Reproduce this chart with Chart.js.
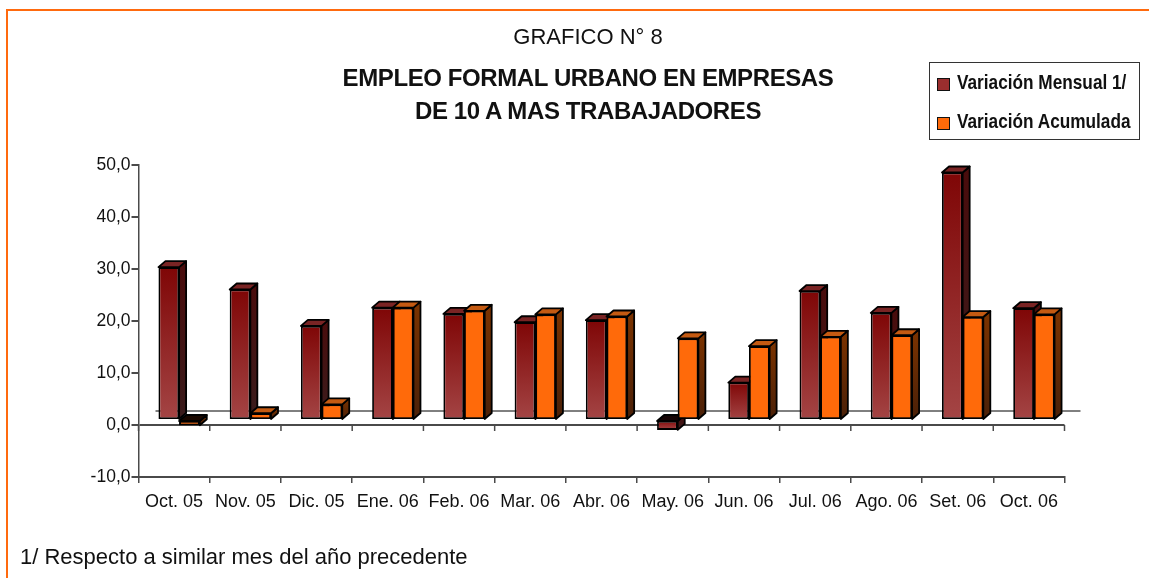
<!DOCTYPE html>
<html>
<head>
<meta charset="utf-8">
<script src="https://cdn.jsdelivr.net/npm/chart.js@4.4.1/dist/chart.umd.min.js"></script>
<style>
  html, body { margin:0; padding:0; background:#fff; }
  body { width:1149px; height:578px; position:relative; overflow:hidden;
         font-family:'Liberation Sans',Arial,sans-serif; color:#111; }
  #frame { position:absolute; left:6px; top:9px; width:1200px; height:700px;
           border-top:2px solid #ff6a0e; border-left:2px solid #ff6a0e; }
  #c { position:absolute; left:0; top:0; }
  .t { position:absolute; left:0; width:1176px; text-align:center; white-space:nowrap; }
  #t1 { top:24px; font-size:22px; line-height:26px; font-weight:normal; }
  #t2 { top:64px; font-size:24px; line-height:28px; font-weight:bold; letter-spacing:-0.4px; }
  #t3 { top:97px; font-size:24px; line-height:28px; font-weight:bold; letter-spacing:-0.4px; }
  #legend { position:absolute; left:929px; top:62px; width:209px; height:76px; border:1px solid #333; background:#fff; }
  .mk { position:absolute; left:7px; width:11px; height:11px; border:1.5px solid #111; }
  .li { position:absolute; left:27px; height:24px; font-size:21px; font-weight:bold; line-height:24px; white-space:nowrap;
        transform:scaleX(0.82); transform-origin:0 50%; }
  #foot { position:absolute; left:20px; top:543px; font-size:22px; line-height:28px; white-space:nowrap; }
</style>
</head>
<body>
<div id="frame"></div>
<canvas id="c" width="1149" height="578"></canvas>
<div class="t" id="t1">GRAFICO N° 8</div>
<div class="t" id="t2">EMPLEO FORMAL URBANO EN EMPRESAS</div>
<div class="t" id="t3">DE 10 A MAS TRABAJADORES</div>
<div id="legend">
  <span class="mk" style="top:15px;background:#9a2e2e"></span>
  <div class="li" style="top:7px">Variación Mensual 1/</div>
  <span class="mk" style="top:54px;background:#ff6a0a"></span>
  <div class="li" style="top:46px">Variación Acumulada</div>
</div>
<div id="foot">1/ Respecto a similar mes del año precedente</div>
<script>
const categories = ['Oct. 05','Nov. 05','Dic. 05','Ene. 06','Feb. 06','Mar. 06','Abr. 06','May. 06','Jun. 06','Jul. 06','Ago. 06','Set. 06','Oct. 06'];
const mensual   = [29.4, 25.1, 18.1, 21.6, 20.4, 18.8, 19.2, -1.9, 7.2, 24.8, 20.6, 47.6, 21.5];
const acumulada = [-1.0, 1.3, 3.0, 21.6, 21.0, 20.3, 19.9, 15.7, 14.2, 16.0, 16.3, 19.8, 20.3];
const yMin = -10, yMax = 50, yStep = 10;
const seriesNames = ['Variación Mensual 1/', 'Variación Acumulada'];

const FONT = "'Liberation Sans', Arial, sans-serif";
const DX = 7, DY = 6, SHIFT_X = 5, SHIFT_Y = -5, EDGE = 1.8;

function mensualFill(ctx) {
  const chart = ctx.chart;
  const y = chart.scales && chart.scales.y;
  if (ctx.type !== 'data' || !y) return '#9a2e2e';
  const p0 = y.getPixelForValue(0), p1 = y.getPixelForValue(ctx.raw);
  if (!isFinite(p0) || !isFinite(p1)) return '#9a2e2e';
  const top = Math.min(p0, p1), bot = Math.max(p0, p1);
  const g = chart.ctx.createLinearGradient(0, top, 0, bot + 0.01);
  g.addColorStop(0, '#7f0606');
  g.addColorStop(1, '#a44545');
  return g;
}

const styles3d = [
  { sideTop:'#4a0c0c', sideBot:'#3a1c1c', cap:'#7a2424', capNeg:'#160404' },
  { sideTop:'#7c3300', sideBot:'#4a2008', cap:'#c45a12', capNeg:'#1a0800' }
];

function draw3d(c, el, st) {
  const w = el.width, L = el.x - w/2, R = el.x + w/2;
  const T = Math.min(el.y, el.base), B = Math.max(el.y, el.base);
  if (!isFinite(T) || !isFinite(B)) return;
  const neg = el.y > el.base;
  c.lineWidth = EDGE; c.strokeStyle = '#000'; c.lineJoin = 'round';
  const g = c.createLinearGradient(0, T - DY, 0, B + 0.01);
  g.addColorStop(0, st.sideTop); g.addColorStop(1, st.sideBot);
  c.beginPath(); c.moveTo(R, T); c.lineTo(R + DX, T - DY); c.lineTo(R + DX, B - DY); c.lineTo(R, B); c.closePath();
  c.fillStyle = g; c.fill(); c.stroke();
  c.beginPath(); c.moveTo(L, T); c.lineTo(L + DX, T - DY); c.lineTo(R + DX, T - DY); c.lineTo(R, T); c.closePath();
  c.fillStyle = neg ? st.capNeg : st.cap; c.fill(); c.stroke();
}

const bars3d = {
  id: 'bars3d',
  beforeDatasetsDraw(chart) {
    const c = chart.ctx, x = chart.scales.x, y = chart.scales.y;
    const z = y.getPixelForValue(0);
    const ca = chart.chartArea;
    c.save();
    c.strokeStyle = '#000'; c.lineWidth = 1;
    c.beginPath(); c.moveTo(ca.left + 17, z - 14); c.lineTo(ca.right + 16, z - 14); c.stroke();
    c.strokeStyle = '#4a4a4a'; c.lineWidth = 1.5;
    for (let i = 0; i <= categories.length; i++) {
      const px = x.getPixelForValue(i - 0.5);
      c.beginPath(); c.moveTo(px, z); c.lineTo(px, z + 6); c.stroke();
    }
    c.restore();
    c.save();
    c.translate(SHIFT_X, SHIFT_Y);
  },
  afterDatasetsDraw(chart) {
    const c = chart.ctx;
    const m0 = chart.getDatasetMeta(0), m1 = chart.getDatasetMeta(1);
    m0.data.forEach(el => draw3d(c, el, styles3d[0]));
    m1.data.forEach(el => { el.draw(c); draw3d(c, el, styles3d[1]); });
    c.restore();
  }
};

new Chart(document.getElementById('c'), {
  type: 'bar',
  data: {
    labels: categories,
    datasets: [
      { label: seriesNames[0], data: mensual, backgroundColor: mensualFill, borderColor: '#000', borderWidth: EDGE, borderSkipped: false },
      { label: seriesNames[1], data: acumulada, backgroundColor: '#ff6a0a', borderColor: '#000', borderWidth: EDGE, borderSkipped: false }
    ]
  },
  options: {
    responsive: false,
    animation: false,
    devicePixelRatio: 1,
    layout: { padding: { left: 0, right: 84.5, top: 165, bottom: 0 } },
    plugins: { legend: { display: false }, title: { display: false }, tooltip: { enabled: false } },
    datasets: { bar: { categoryPercentage: 0.58, barPercentage: 1.0 } },
    scales: {
      x: {
        offset: true,
        grid: { display: true, drawOnChartArea: false, drawTicks: true, tickLength: 6, offset: true, color: '#4a4a4a', lineWidth: 1.5 },
        border: { display: true, color: '#4a4a4a', width: 2 },
        ticks: { color: '#111', font: { family: FONT, size: 18 }, padding: 8, maxRotation: 0, autoSkip: false },
        afterFit(s) { s.height = 101; }
      },
      y: {
        min: yMin, max: yMax,
        ticks: { stepSize: yStep, color: '#111', font: { family: FONT, size: 17.5 }, padding: 1,
                 callback: v => v.toFixed(1).replace('.', ',') },
        grid: { drawOnChartArea: true, drawTicks: true, tickLength: 7,
                color: ctx => (ctx.tick && ctx.tick.value === 0) ? '#4a4a4a' : 'rgba(0,0,0,0)',
                lineWidth: 2, tickColor: '#4a4a4a' },
        border: { display: true, color: '#4a4a4a', width: 1.5 },
        afterFit(s) { s.width = 138.5; }
      }
    }
  },
  plugins: [bars3d]
});
</script>
</body>
</html>
